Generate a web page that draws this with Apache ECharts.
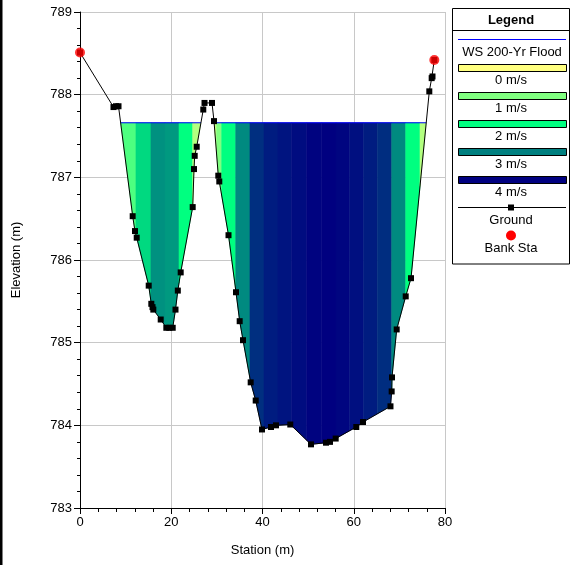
<!DOCTYPE html>
<html>
<head>
<meta charset="utf-8">
<title>Cross Section</title>
<script src="https://cdn.jsdelivr.net/npm/echarts@6/dist/echarts.min.js"></script>
<style>
  html, body { margin: 0; padding: 0; background: #fff; }
  #chart { width: 571px; height: 565px; }
</style>
</head>
<body>
<div id="chart"></div>
<script>
// 地面线 (station, elevation)
var groundData = [
  [0, 788.51], [7.34, 787.85], [7.89, 787.86], [8.44, 787.86],
  [11.55, 786.53], [12.05, 786.35], [12.43, 786.27], [15.06, 785.69],
  [15.63, 785.47], [15.89, 785.43], [16.07, 785.40], [17.69, 785.28],
  [18.92, 785.18], [19.57, 785.18], [20.32, 785.18], [20.93, 785.40],
  [21.44, 785.63], [22.07, 785.85], [24.70, 786.64], [24.99, 787.10],
  [25.14, 787.26], [25.58, 787.37], [27.02, 787.82], [27.29, 787.90],
  [28.93, 787.90], [29.37, 787.68], [30.31, 787.02], [30.53, 786.95],
  [32.55, 786.30], [34.19, 785.61], [35.00, 785.26], [35.73, 785.03],
  [37.41, 784.52], [38.51, 784.30], [39.89, 783.95], [41.86, 783.98],
  [42.96, 784.00], [46.09, 784.01], [50.63, 783.77], [53.92, 783.79],
  [54.79, 783.80], [56.04, 783.84], [60.56, 783.98], [62.03, 784.04],
  [68.05, 784.23], [68.31, 784.41], [68.38, 784.58], [69.41, 785.16],
  [71.39, 785.56], [72.55, 785.78], [76.56, 788.04], [77.08, 788.20],
  [77.26, 788.22], [77.66, 788.42]
];
// 岸点
var bankData = [[0, 788.51], [77.66, 788.42]];
// 水面高程
var wsElev = 787.66;
// 流速分条的边界 (station) 和流速 (m/s)
var stripEdges = [8.0, 12.27, 15.56, 18.63, 21.70, 24.70, 28.5, 29.96, 31.06, 34.13,
  37.26, 40.33, 43.40, 46.40, 49.69, 52.98, 56.11, 59.03, 62.10, 65.16,
  68.32, 71.39, 74.52, 78.0];
var stripVel = [1.4, 2.3, 2.87, 2.8, 2.0, 0.6,
  0.5, 1.0, 2.0, 2.92, 3.63, 3.78, 3.84, 3.91, 3.98, 4.0,
  3.96, 3.88, 3.78, 3.65, 2.92, 2.0, 0.6];
// 图例
var legendVel = ['0 m/s', '1 m/s', '2 m/s', '3 m/s', '4 m/s'];
var velColors = ['#ffff80', '#80ff80', '#00ff80', '#008080', '#000080'];

var FONT = '"Liberation Sans", Arial, sans-serif';

// 插值地面高程
function groundAt(x) {
  for (var i = 1; i < groundData.length; i++) {
    var a = groundData[i - 1], b = groundData[i];
    if (x >= a[0] && x <= b[0]) {
      if (b[0] === a[0]) return Math.min(a[1], b[1]);
      return a[1] + (x - a[0]) / (b[0] - a[0]) * (b[1] - a[1]);
    }
  }
  return Infinity;
}

// 地面与水面交点
var crossings = [];
for (var i = 1; i < groundData.length; i++) {
  var q = groundData[i - 1], p = groundData[i];
  if ((q[1] - wsElev) * (p[1] - wsElev) < 0) {
    crossings.push(q[0] + (wsElev - q[1]) / (p[1] - q[1]) * (p[0] - q[0]));
  }
}

var stripData = [];
for (var k = 0; k < stripVel.length; k++) {
  stripData.push([stripEdges[k], stripEdges[k + 1], stripVel[k]]);
}

function renderStrip(params, api) {
  var s0 = api.value(0), s1 = api.value(1);
  var xs = [s0, s1];
  groundData.forEach(function (g) {
    if (g[0] > s0 && g[0] < s1) xs.push(g[0]);
  });
  crossings.forEach(function (c) {
    if (c > s0 && c < s1) xs.push(c);
  });
  xs.sort(function (a, b) { return a - b; });
  xs = xs.filter(function (x) { return groundAt(x) <= wsElev + 1e-6; });
  if (xs.length < 2) return null;
  var pts = [];
  xs.forEach(function (x) { pts.push(api.coord([x, wsElev])); });
  xs.slice().reverse().forEach(function (x) {
    pts.push(api.coord([x, Math.min(groundAt(x), wsElev)]));
  });
  var c = api.visual('color');
  return {
    type: 'polygon',
    shape: { points: pts },
    style: { fill: c, stroke: c, lineWidth: 0.6 }
  };
}

var series = [{
  type: 'custom',
  coordinateSystem: 'cartesian2d',
  data: stripData,
  encode: { x: [0, 1] },
  renderItem: renderStrip,
  silent: true,
  z: 1
}];

// 水面线
for (var w = 0; w + 1 < crossings.length; w += 2) {
  series.push({
    type: 'line',
    data: [[crossings[w], wsElev], [crossings[w + 1], wsElev]],
    symbol: 'none',
    lineStyle: { color: '#0000ff', width: 1 },
    silent: true,
    z: 2
  });
}

series.push({
  name: 'Ground',
  type: 'line',
  data: groundData,
  symbol: 'rect',
  symbolSize: 6,
  showAllSymbol: true,
  itemStyle: { color: '#000' },
  lineStyle: { color: '#000', width: 1 },
  silent: true,
  z: 3
});

series.push({
  name: 'Bank Sta',
  type: 'scatter',
  data: bankData,
  symbol: 'circle',
  symbolSize: 10,
  itemStyle: { color: '#ff0000' },
  silent: true,
  z: 4
});

// 图例 (graphic)
var lx = 452, lw = 118, cx = 511;
var legendEls = [
  { type: 'rect', shape: { x: lx + 0.5, y: 8.5, width: lw - 1, height: 255.5 },
    style: { fill: '#fff', stroke: '#000', lineWidth: 1 } },
  { type: 'line', shape: { x1: lx, y1: 30.5, x2: lx + lw, y2: 30.5 },
    style: { stroke: '#000', lineWidth: 1 } },
  { type: 'text', x: cx, y: 20,
    style: { text: 'Legend', font: 'bold 13px ' + FONT, fill: '#000', align: 'center', verticalAlign: 'middle' } },
  { type: 'line', shape: { x1: 458, y1: 39.5, x2: 566, y2: 39.5 },
    style: { stroke: '#0000ff', lineWidth: 1 } },
  { type: 'text', x: 512, y: 52,
    style: { text: 'WS 200-Yr Flood', font: '13px ' + FONT, fill: '#000', align: 'center', verticalAlign: 'middle' } }
];
legendVel.forEach(function (lab, i) {
  var y = 64.5 + i * 28;
  legendEls.push({ type: 'rect', shape: { x: 458.5, y: y, width: 108, height: 7 },
    style: { fill: velColors[i], stroke: '#000', lineWidth: 1 } });
  legendEls.push({ type: 'text', x: cx, y: y + 15.5,
    style: { text: lab, font: '13px ' + FONT, fill: '#000', align: 'center', verticalAlign: 'middle' } });
});
legendEls.push(
  { type: 'line', shape: { x1: 458, y1: 207.5, x2: 566, y2: 207.5 },
    style: { stroke: '#000', lineWidth: 1 } },
  { type: 'rect', shape: { x: cx - 3, y: 204.5, width: 6, height: 6 },
    style: { fill: '#000' } },
  { type: 'text', x: cx, y: 220,
    style: { text: 'Ground', font: '13px ' + FONT, fill: '#000', align: 'center', verticalAlign: 'middle' } },
  { type: 'circle', shape: { cx: cx, cy: 235.5, r: 5 },
    style: { fill: '#ff0000' } },
  { type: 'text', x: cx, y: 248,
    style: { text: 'Bank Sta', font: '13px ' + FONT, fill: '#000', align: 'center', verticalAlign: 'middle' } }
);
// 左边框
legendEls.push({ type: 'rect', shape: { x: 0, y: 0, width: 2.5, height: 565 }, style: { fill: '#000' } });

var chart = echarts.init(document.getElementById('chart'));
var option = {
  animation: false,
  backgroundColor: '#fff',
  textStyle: { fontFamily: FONT },
  grid: { left: 80, top: 12, width: 365, height: 496, containLabel: false },
  visualMap: {
    show: false,
    type: 'continuous',
    seriesIndex: 0,
    dimension: 2,
    min: 0,
    max: 4,
    inRange: { color: velColors }
  },
  xAxis: {
    type: 'value',
    min: 0,
    max: 80,
    interval: 20,
    name: 'Station (m)',
    nameLocation: 'middle',
    nameGap: 36,
    nameTextStyle: { color: '#000', fontSize: 13, fontFamily: FONT },
    axisLine: { show: true, onZero: false, lineStyle: { color: '#000', width: 1 } },
    axisTick: { show: true, inside: false, length: 6, lineStyle: { color: '#000' } },
    minorTick: { show: true, splitNumber: 5, length: 4, lineStyle: { color: '#000' } },
    axisLabel: { color: '#000', fontSize: 13, fontFamily: FONT, margin: 8 },
    splitLine: { show: true, lineStyle: { color: '#c8c8c8', width: 1 } },
    minorSplitLine: { show: false }
  },
  yAxis: {
    type: 'value',
    min: 783,
    max: 789,
    interval: 1,
    name: 'Elevation (m)',
    nameLocation: 'middle',
    nameGap: 57,
    nameRotate: 90,
    nameTextStyle: { color: '#000', fontSize: 13, fontFamily: FONT },
    axisLine: { show: true, onZero: false, lineStyle: { color: '#000', width: 1 } },
    axisTick: { show: true, inside: false, length: 6, lineStyle: { color: '#000' } },
    minorTick: { show: true, splitNumber: 5, length: 3, lineStyle: { color: '#000' } },
    axisLabel: { color: '#000', fontSize: 13, fontFamily: FONT, margin: 8 },
    splitLine: { show: true, lineStyle: { color: '#c8c8c8', width: 1 } },
    minorSplitLine: { show: false }
  },
  graphic: legendEls,
  series: series
};
chart.setOption(option);
</script>
</body>
</html>
